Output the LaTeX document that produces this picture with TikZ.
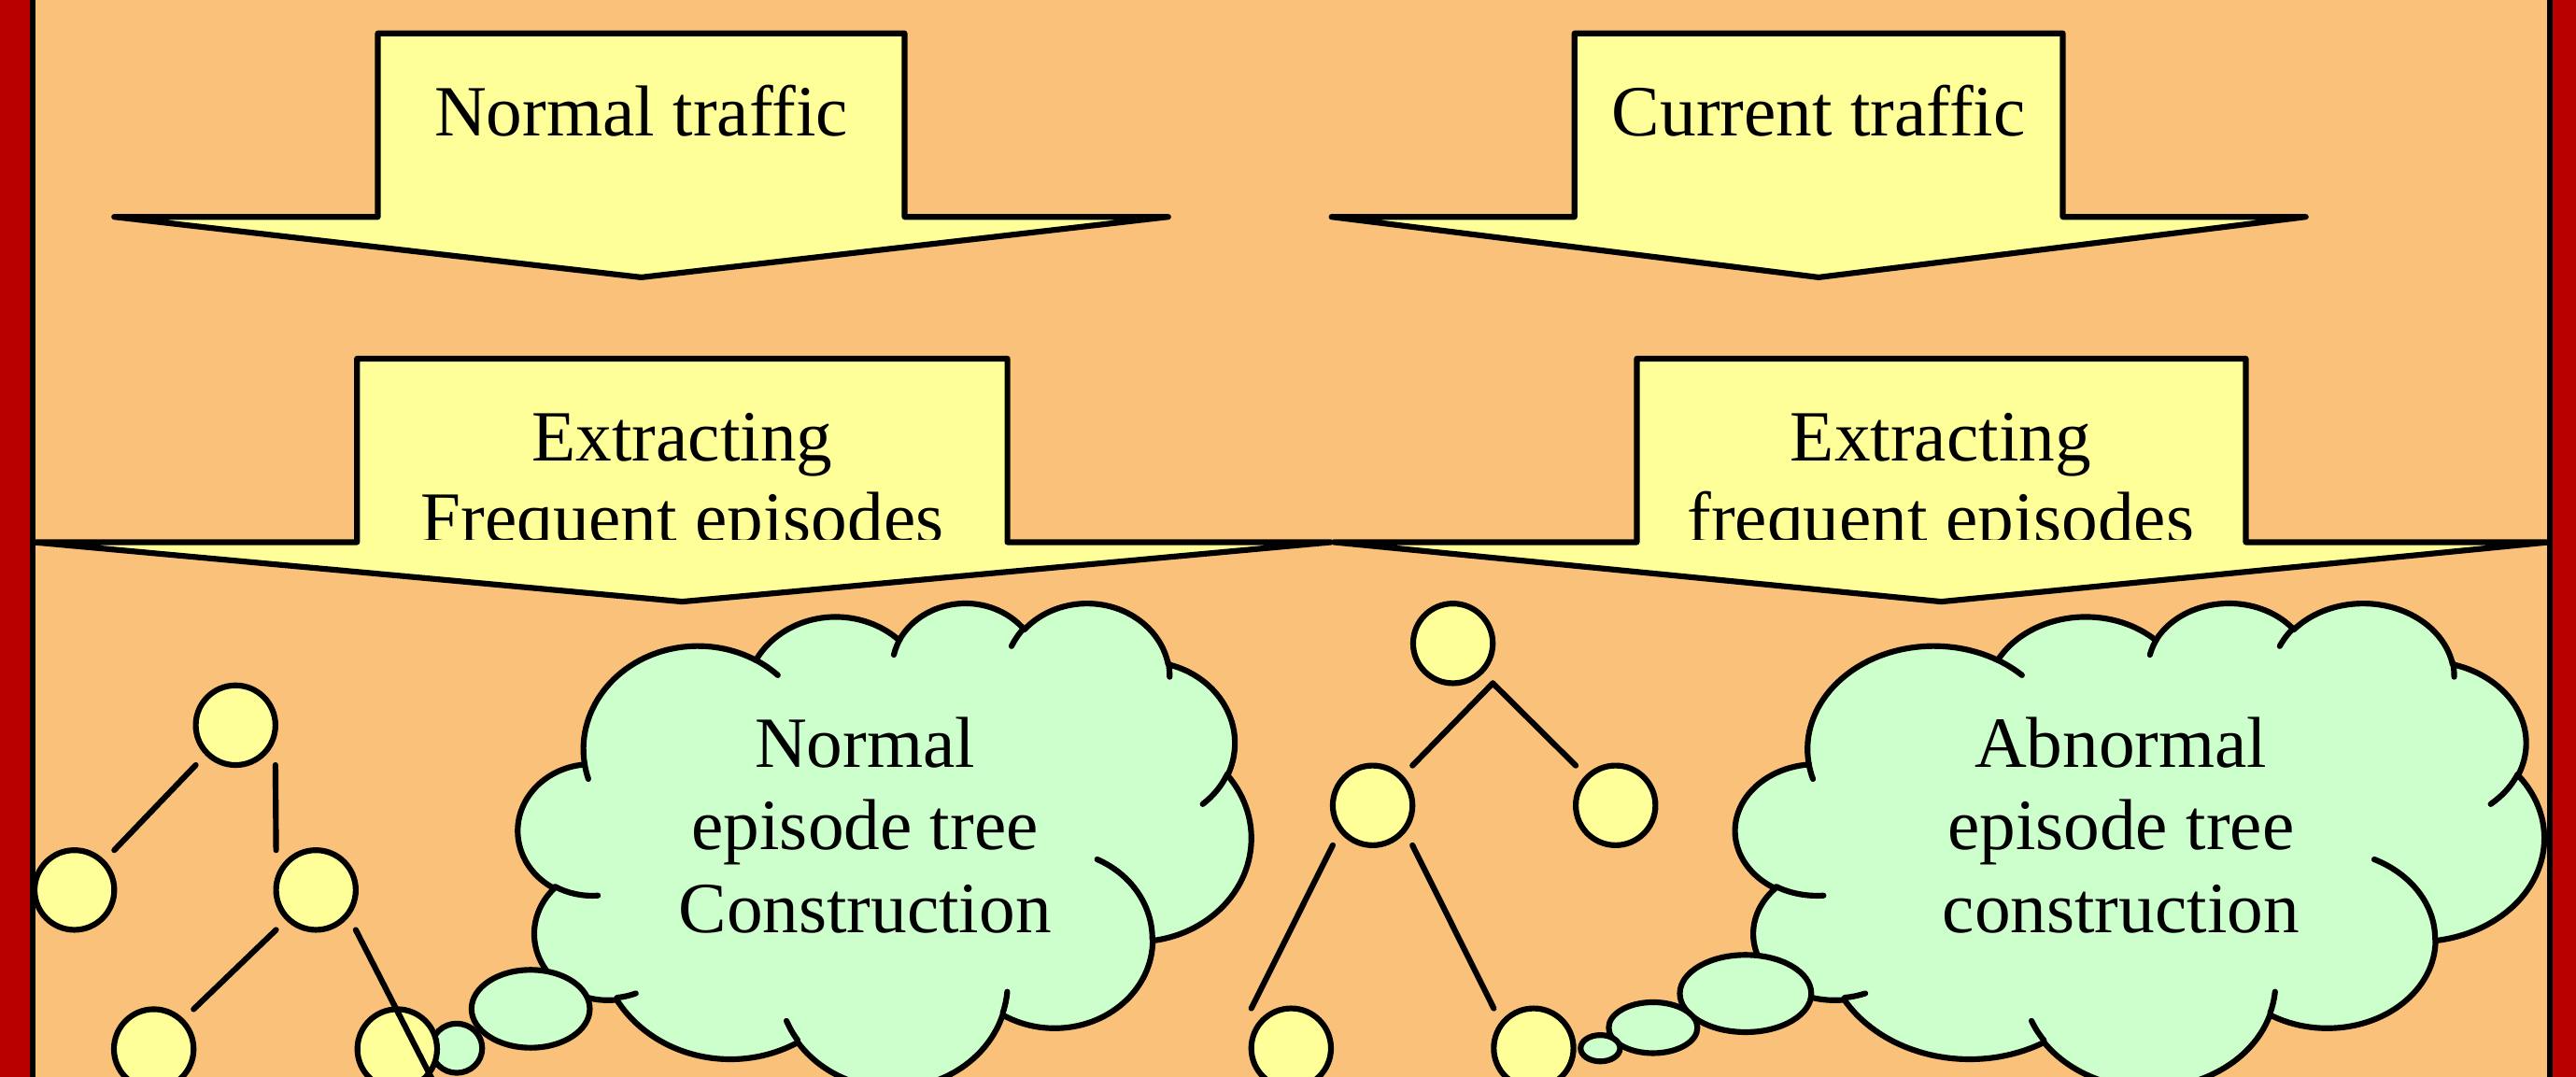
\documentclass[tikz,border=0pt]{standalone}
\usepackage{fontspec}
\setmainfont{Liberation Serif}
\usetikzlibrary{calc}

\definecolor{slidebg}{RGB}{250,193,122}
\definecolor{framered}{RGB}{184,0,0}
\definecolor{boxyellow}{RGB}{255,255,153}
\definecolor{cloudgreen}{RGB}{204,255,204}

% Cloud outline: a chain of elliptical arcs in a 43.2 x 43.2 box (y downwards).
% Angles are given as ray angles and turned into parametric ellipse angles.
\def\cloudpath{}
\def\cloudhooks{}
\newcommand\ooparam[4]{%
  \pgfmathsetmacro\oota{atan2((#1)*sin(#3),(#2)*cos(#3))}%
  \pgfmathsetmacro\ootb{atan2((#1)*sin((#3)+(#4)),(#2)*cos((#3)+(#4)))}%
  \pgfmathsetmacro\ootb{(\ootb<\oota) ? \ootb+360 : \ootb}%
}
\newcommand\ooarc[4]{\ooparam{#1}{#2}{#3}{#4}%
  \xdef\cloudpath{\cloudpath arc[x radius=#1,y radius=#2,start angle=\oota,end angle=\ootb]}}
\newcommand\oohook[6]{\ooparam{#3}{#4}{#5}{#6}%
  \xdef\cloudhooks{\cloudhooks (#1,#2) arc[x radius=#3,y radius=#4,start angle=\oota,end angle=\ootb]}}

% outer puffs
\ooarc{6.753}{9.190}{-190.4875}{123.7805}
\ooarc{5.333}{7.267}{-144.1024}{89.9452}
\ooarc{4.365}{5.945}{-145.8079}{99.7230}
\ooarc{4.857}{6.595}{-130.9861}{117.2417}
\ooarc{5.333}{7.273}{-78.7089}{109.0269}
\ooarc{6.775}{9.220}{-46.2673}{130.2690}
\ooarc{5.785}{7.867}{0.6250}{114.0333}
\ooarc{6.752}{9.215}{22.4516}{115.1726}
\ooarc{7.720}{10.543}{66.2426}{75.7110}
\ooarc{4.360}{5.918}{-274.9421}{146.7356}
\ooarc{4.345}{5.945}{-246.8285}{152.5189}
% inner hooks where the puffs meet
\oohook{4.693}{26.177}{4.345}{5.945}{86.7420}{26.4295}
\oohook{6.928}{34.899}{4.360}{5.918}{73.6105}{11.4475}
\oohook{16.478}{39.090}{6.752}{9.215}{137.6242}{14.0811}
\oohook{28.827}{34.751}{6.752}{9.215}{6.4533}{15.9984}
\oohook{34.129}{22.954}{5.785}{7.867}{-70.2924}{70.9174}
\oohook{41.798}{15.354}{5.333}{7.273}{30.3180}{27.7515}
\oohook{38.324}{5.426}{4.857}{6.595}{-13.7443}{14.8640}
\oohook{29.078}{3.952}{4.857}{6.595}{-149.1815}{18.1928}
\oohook{22.141}{4.720}{4.365}{5.945}{-163.4943}{17.6951}
\oohook{14.000}{5.192}{6.753}{9.190}{-66.7070}{12.3194}
\oohook{4.127}{15.789}{6.753}{9.190}{157.6544}{11.8582}

\begin{document}
\begin{tikzpicture}[x=0.02cm,y=-0.02cm,line width=0.07cm,line join=round,
  arrowbox/.style={fill=boxyellow,draw=black},
  cloudbody/.style={fill=cloudgreen,draw=black},
  hook/.style={draw=black,line cap=round},
  bubble/.style={fill=cloudgreen,draw=black},
  treenode/.style={circle,fill=boxyellow,draw=black,minimum size=0.97cm,inner sep=0pt,outer sep=0pt},
  edge/.style={draw=black,line cap=round},
  lbl/.style={font=\fontsize{25}{28.5}\selectfont,inner sep=0pt,anchor=base}]
\useasboundingbox (0,0) rectangle (1568,655);
\clip (0,0) rectangle (1568,655);

% slide background with the red side bands
\fill[framered] (0,-5) rectangle (1568,660);
\fill[slidebg] (20,-5) rectangle (1552,660);

% upper block arrows
\draw[arrowbox] (230,20.3) -- (550.6,20.3) -- (550.6,132) -- (711.1,132) -- (390.3,168.8) -- (69.5,132) -- (230,132) -- cycle;
\node[lbl] (normtraffic) at (390.3,82.5) {Normal traffic};
\draw[arrowbox] (958.4,20.3) -- (1255.6,20.3) -- (1255.6,132) -- (1403.5,132) -- (1107,168.8) -- (810.5,132) -- (958.4,132) -- cycle;
\node[lbl] (curtraffic) at (1107,82.5) {Current traffic};

% lower block arrows
\draw[arrowbox] (217.3,218.3) -- (613.2,218.3) -- (613.2,330) -- (810.2,330) -- (415.25,366.2) -- (20.3,330) -- (217.3,330) -- cycle;
\draw[arrowbox] (996.3,218.3) -- (1367,218.3) -- (1367,330) -- (1551.4,330) -- (1181.65,366.2) -- (811.9,330) -- (996.3,330) -- cycle;
\begin{scope}
  \clip (0,0) rectangle (1568,328.5);
  \node[lbl] (extrL1) at (415.25,280.4) {Extracting};
  \node[lbl] (extrL2) at (415.25,330) {Frequent episodes};
  \node[lbl] (extrR1) at (1181.3,280.4) {Extracting};
  \node[lbl] (extrR2) at (1181.3,330) {frequent episodes};
\end{scope}

% left cloud
\begin{scope}[shift={(315.5,366.3)},xscale=446/43.2,yscale=295/43.2]
  \draw[cloudbody] (3.9,14.37) \cloudpath -- cycle;
  \draw[hook] \cloudhooks;
\end{scope}
\node[lbl] (ncloud1) at (526.5,466.8) {Normal};
\node[lbl] (ncloud2) at (526.5,517.2) {episode tree};
\node[lbl] (ncloud3) at (526.5,567.8) {Construction};
\draw[bubble] (323,614) ellipse [x radius=36,y radius=23.7];
\draw[bubble] (278,638) ellipse [x radius=15.5,y radius=15];

% right cloud
\begin{scope}[shift={(1056.5,366.3)},xscale=492/43.2,yscale=295/43.2]
  \draw[cloudbody] (3.9,14.37) \cloudpath -- cycle;
  \draw[hook] \cloudhooks;
\end{scope}
\node[lbl] (acloud1) at (1291,466.8) {Abnormal};
\node[lbl] (acloud2) at (1291,517.2) {episode tree};
\node[lbl] (acloud3) at (1291,567.8) {construction};
\draw[bubble] (1062.5,604.7) ellipse [x radius=40,y radius=23.5];
\draw[bubble] (1006.2,625.5) ellipse [x radius=27,y radius=15.5];
\draw[bubble] (974.1,638) ellipse [x radius=12,y radius=8];

% normal episode tree
\node[treenode] (la) at (143.4,441.4) {};
\node[treenode] (lb) at (45.3,541.7) {};
\node[treenode] (lc) at (192.3,541.7) {};
\node[treenode] (ld) at (93.6,638.5) {};
\node[treenode] (le) at (241.8,638.5) {};
\draw[edge] (la.west |- la.south) -- (lb.east |- lb.north);
\draw[edge] (la.east |- la.south) -- (lc.west |- lc.north);
\draw[edge] (lc.west |- lc.south) -- (ld.east |- ld.north);
\draw[edge] (lc.east |- lc.south) -- (le.east |- le.south);

% abnormal episode tree
\node[treenode] (ra) at (884.4,391.6) {};
\node[treenode] (rb) at (835.5,490.2) {};
\node[treenode] (rc) at (983.4,490.2) {};
\node[treenode] (rd) at (785.9,638) {};
\node[treenode] (re) at (933.5,638) {};
\draw[edge] (ra.east |- ra.south) -- (rb.east |- rb.north);
\draw[edge] (ra.east |- ra.south) -- (rc.west |- rc.north);
\draw[edge] (rb.west |- rb.south) -- (rd.west |- rd.north);
\draw[edge] (rb.east |- rb.south) -- (re.west |- re.north);

% frame lines
\draw (20,-5) -- (20,660);
\draw (1552,-5) -- (1552,660);
\end{tikzpicture}
\end{document}
